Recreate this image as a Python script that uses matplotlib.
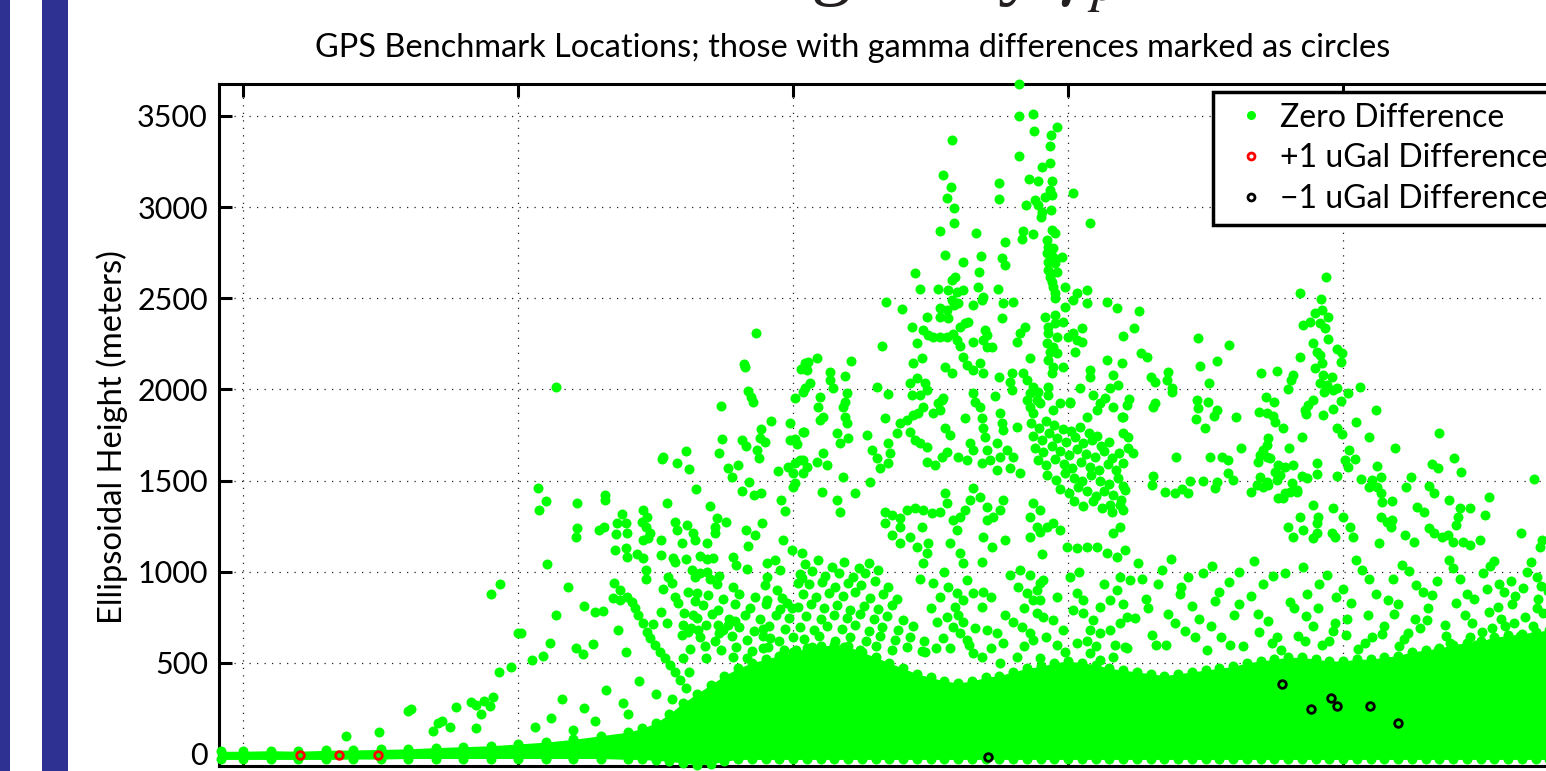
import numpy as np
import matplotlib.pyplot as plt
from matplotlib.patches import Rectangle
from matplotlib.lines import Line2D

plt.rcParams['font.family'] = ['Lato', 'DejaVu Sans']
plt.rcParams['mathtext.fontset'] = 'stix'

# Benchmarks: (latitude in degrees, ellipsoidal height in m)
zero_gulf = [(29.51, 878), (29.67, 933), (30.00, 664), (29.65, 450), (29.87, 477), (29.55, 313),
             (29.38, 291), (29.15, 285), (29.24, 269), (29.49, 263), (29.33, 219), (28.87, 258),
             (28.00, 236), (28.05, 247), (28.45, 126), (28.55, 170), (28.62, 181), (28.76, 148),
             (29.24, 143), (26.87, 99), (27.47, 121), (30.8, 300), (31.2, 250), (31.6, 350),
             (31.9, 280), (32.2, 400), (32.5, 330), (30.6, 200), (31.4, 180), (32.0, 220),
             (32.8, 300), (33.1, 450), (30.3, 150), (31.0, 130)]

zero_south = [(34.33, 2310), (34.11, 2140), (34.13, 2123), (30.69, 2013), (34.18, 1991), (34.24, 1958),
              (34.27, 1931), (33.69, 1909), (35.22, 2145), (35.15, 2112), (35.27, 2150), (35.22, 2008),
              (35.18, 1986), (35.04, 1953), (34.60, 1827), (34.42, 1783), (34.95, 1816), (35.20, 1766),
              (33.71, 1728), (34.07, 1723), (34.15, 1690), (34.40, 1734), (34.49, 1712), (34.35, 1668),
              (34.38, 1624), (34.95, 1723), (35.04, 1728), (35.07, 1701), (33.65, 1651), (32.64, 1629),
              (32.62, 1618), (33.05, 1662), (32.89, 1596), (33.11, 1563), (33.82, 1569), (34.00, 1585),
              (33.89, 1520), (34.20, 1492), (34.07, 1443), (34.29, 1421), (34.42, 1432), (34.73, 1552),
              (34.91, 1574), (35.04, 1596), (35.18, 1613), (35.00, 1542), (35.18, 1542), (35.04, 1487),
              (35.00, 1465), (33.24, 1454), (32.71, 1377), (33.49, 1360), (34.78, 1393), (34.85, 1333),
              (30.36, 1459), (30.51, 1388), (30.38, 1339), (31.07, 1377), (31.58, 1421), (31.58, 1393),
              (31.89, 1317), (31.80, 1267), (31.96, 1267), (31.78, 1207), (31.98, 1212), (32.27, 1339),
              (32.35, 1300), (32.25, 1273), (32.33, 1245), (32.40, 1212), (32.27, 1174), (32.36, 1185),
              (31.47, 1229), (31.56, 1245), (31.07, 1240), (31.05, 1190), (32.60, 1174), (32.85, 1273),
              (32.89, 1229), (33.07, 1256), (33.18, 1212), (33.22, 1174), (32.98, 1158), (33.62, 1295),
              (33.58, 1245), (33.78, 1273), (33.58, 1212), (33.44, 1158), (34.15, 1229), (34.31, 1201),
              (34.44, 1267), (34.18, 1141), (34.82, 1174), (34.98, 1119), (35.16, 1103), (31.76, 1119),
              (31.96, 1130), (31.98, 1081), (32.16, 1097), (32.27, 1075), (32.60, 1092), (32.82, 1075),
              (32.85, 1053), (33.05, 1070), (33.31, 1086), (33.44, 1070), (33.55, 1075), (33.91, 1081),
              (33.96, 1037), (34.16, 1015), (30.53, 1042), (32.33, 1009), (32.33, 960), (32.73, 971),
              (32.80, 938), (32.64, 905), (33.16, 1009), (33.22, 971), (33.31, 993), (33.44, 998),
              (33.49, 960), (33.65, 976), (33.09, 889), (33.25, 883), (33.22, 839), (32.85, 861),
              (32.91, 828), (34.53, 1048), (34.67, 1064), (34.76, 1009), (34.53, 971), (34.49, 927),
              (34.71, 900), (34.53, 845), (34.80, 856), (34.89, 828), (34.98, 801), (35.09, 938),
              (35.16, 966), (31.75, 938), (31.85, 900), (31.98, 861), (32.07, 834), (32.13, 801),
              (32.18, 763), (32.27, 719), (32.35, 669), (32.40, 636), (32.49, 598), (32.58, 560),
              (32.67, 527), (32.76, 488), (32.85, 450), (32.95, 406), (33.05, 362), (31.73, 856),
              (31.85, 845), (30.91, 916), (31.20, 812), (31.40, 779), (31.55, 784), (30.69, 763),
              (32.60, 779), (32.71, 719), (32.45, 713), (33.02, 774), (33.18, 763), (33.00, 708),
              (33.09, 669), (32.98, 653), (33.27, 680), (33.64, 708), (33.82, 708), (33.95, 730),
              (33.65, 664), (34.45, 686), (34.58, 636), (34.45, 582), (31.82, 680), (30.05, 664),
              (30.58, 609), (31.36, 603), (31.05, 582), (31.18, 549), (31.96, 560), (30.45, 538),
              (30.25, 516), (33.00, 527), (33.42, 527), (33.91, 532), (34.16, 527)]

zero_rockies = [(39.11, 3675), (39.11, 3500), (39.36, 3511), (39.38, 3418), (39.80, 3440), (39.69, 3396),
                (39.67, 3335), (37.89, 3368), (39.11, 3281), (39.67, 3242), (39.53, 3220), (37.73, 3176),
                (37.87, 3111), (37.80, 3050), (37.93, 2995), (37.93, 2913), (37.67, 2869), (38.75, 3133),
                (38.75, 3045), (39.29, 3154), (39.45, 3143), (39.71, 3143), (39.67, 3094), (39.71, 3067),
                (39.58, 3056), (39.40, 3039), (39.45, 3012), (39.24, 3012), (39.51, 2946), (39.69, 2984),
                (39.53, 2973), (40.09, 3078), (40.40, 2913), (38.33, 2858), (39.18, 2869), (39.36, 2853),
                (39.16, 2825), (39.71, 2875), (39.76, 2858), (39.62, 2820), (39.64, 2781), (39.73, 2776),
                (39.62, 2748), (39.73, 2727), (39.89, 2727), (39.64, 2699), (39.76, 2694), (39.64, 2655),
                (39.80, 2644), (39.67, 2617), (39.71, 2589), (39.73, 2562), (39.76, 2529), (39.76, 2502),
                (38.85, 2809), (38.80, 2721), (38.85, 2683), (37.76, 2738), (38.42, 2732), (38.09, 2699),
                (38.38, 2644), (37.22, 2639), (37.31, 2551), (37.89, 2600), (37.95, 2617), (37.82, 2546),
                (37.98, 2535), (38.09, 2546), (37.64, 2551), (38.36, 2562), (38.73, 2551), (38.45, 2507),
                (38.44, 2491), (38.27, 2463), (38.82, 2474), (39.00, 2480), (36.69, 2480), (36.98, 2441),
                (37.89, 2491), (37.93, 2463), (38.00, 2474), (37.67, 2447), (37.80, 2436), (39.95, 2562),
                (40.16, 2529), (40.35, 2546), (40.09, 2491), (40.35, 2474), (40.71, 2480), (40.89, 2447),
                (39.95, 2452), (38.80, 2392), (37.44, 2397), (37.67, 2397), (37.82, 2392), (37.16, 2343),
                (37.36, 2326), (37.45, 2299), (37.55, 2288), (37.67, 2288), (37.80, 2288), (37.91, 2304),
                (38.04, 2343), (38.13, 2364), (38.18, 2370), (37.98, 2271), (37.25, 2255), (36.62, 2238),
                (38.04, 2238), (38.27, 2260), (38.49, 2326), (38.53, 2299), (38.45, 2271), (38.53, 2233),
                (38.62, 2233), (39.22, 2343), (39.13, 2310), (39.07, 2260), (39.58, 2397), (39.76, 2408),
                (39.64, 2343), (39.76, 2364), (39.64, 2310), (39.80, 2288), (39.62, 2255), (39.73, 2233),
                (39.67, 2205), (39.80, 2200), (39.64, 2161), (39.73, 2123), (39.71, 2090), (39.91, 2370),
                (40.00, 2288), (40.09, 2310), (40.25, 2337), (40.16, 2271), (40.25, 2260), (40.13, 2205),
                (39.91, 2123), (41.00, 2293), (40.71, 2161), (40.98, 2145), (40.40, 2107), (40.40, 2068),
                (40.82, 2079), (38.09, 2178), (38.16, 2134), (38.40, 2145), (38.45, 2090), (38.27, 2107),
                (37.76, 2123), (37.89, 2090), (37.18, 2145), (37.35, 2172), (39.31, 2172), (38.98, 2090),
                (39.18, 2090), (38.75, 2068), (36.05, 2156), (35.44, 2172), (35.25, 2107), (35.67, 2096),
                (35.67, 2052), (35.73, 2008), (35.95, 2074), (35.31, 2035), (36.53, 2013), (36.73, 1975),
                (37.13, 2035), (37.25, 2063), (37.40, 2035), (37.16, 1969), (37.31, 1969), (37.44, 1997),
                (37.73, 1953), (38.27, 1980), (38.31, 1931), (38.67, 1964), (38.95, 2041), (38.98, 1997),
                (39.25, 2052), (39.36, 2013), (39.45, 1986), (39.31, 1980), (39.44, 1942), (39.25, 1942),
                (39.64, 2013), (39.64, 1969), (40.22, 2008), (40.45, 1969), (40.76, 2008), (40.91, 2024),
                (40.67, 1953), (40.04, 1931), (35.49, 1958), (35.98, 1980), (35.95, 1931)]

zero_plateau = [(35.45, 1904), (35.55, 1849), (35.49, 1832), (35.91, 1904), (35.95, 1849), (35.98, 1816),
                (36.67, 1843), (36.95, 1816), (37.07, 1832), (37.18, 1860), (37.27, 1871), (37.36, 1904),
                (37.55, 1871), (37.67, 1887), (37.71, 1942), (37.64, 1926), (37.76, 1788), (37.85, 1750),
                (38.13, 1843), (38.40, 1904), (38.44, 1843), (38.45, 1788), (38.76, 1871), (38.80, 1816),
                (38.82, 1777), (39.07, 1794), (39.31, 1904), (39.36, 1871), (39.49, 1926), (39.73, 1887),
                (39.85, 1926), (40.04, 1926), (40.35, 1849), (40.53, 1887), (40.58, 1926), (40.82, 1904),
                (40.98, 1849), (35.18, 1766), (35.80, 1761), (35.85, 1706), (36.00, 1734), (36.35, 1750),
                (36.44, 1668), (36.53, 1624), (36.58, 1569), (36.73, 1706), (36.76, 1651), (36.73, 1596),
                (36.89, 1761), (37.13, 1766), (37.22, 1723), (37.31, 1706), (37.44, 1684), (37.44, 1602),
                (37.58, 1585), (37.71, 1629), (37.80, 1657), (38.00, 1629), (38.22, 1706), (38.27, 1668),
                (38.16, 1613), (38.49, 1739), (38.53, 1668), (38.44, 1596), (38.58, 1613), (38.71, 1706),
                (38.76, 1629), (38.71, 1558), (38.89, 1668), (39.00, 1629), (38.95, 1569), (39.13, 1542),
                (35.13, 1613), (35.25, 1574), (35.44, 1602), (35.55, 1651),
                (35.62, 1585), (35.53, 1437), (35.91, 1520), (36.13, 1432), (36.40, 1492), (35.80, 1393),
                (35.85, 1328), (36.67, 1328), (36.80, 1311), (36.95, 1295), (37.07, 1339), (37.22, 1350),
                (37.36, 1339), (37.53, 1322), (37.67, 1328), (37.80, 1377), (37.76, 1432), (36.67, 1267),
                (36.80, 1201), (36.95, 1245), (37.13, 1190), (37.25, 1136), (37.35, 1245), (37.45, 1158),
                (37.44, 1103), (36.95, 1158), (37.36, 1048), (37.91, 1284), (38.04, 1300), (38.13, 1339),
                (38.22, 1393), (37.98, 1229), (37.85, 1158), (38.04, 1103), (38.09, 1048), (38.27, 1459),
                (38.40, 1410), (38.53, 1355), (38.64, 1300), (38.76, 1339), (38.82, 1393), (38.53, 1284),
                (38.45, 1190), (38.62, 1136), (38.85, 1174), (38.44, 1053), (39.36, 1377), (39.49, 1339),
                (39.31, 1300), (39.44, 1245), (39.31, 1190), (39.49, 1218), (39.62, 1245), (39.73, 1267),
                (39.85, 1229), (39.53, 1097), (39.98, 1136), (40.16, 1130), (40.35, 1136), (40.53, 1136),
                (40.71, 1103), (40.89, 1081), (41.04, 1119), (40.82, 1212), (40.95, 1245), (40.76, 1366),
                (41.00, 1339), (41.04, 1448), (37.55, 938), (37.67, 861), (37.82, 916), (37.98, 883),
                (38.09, 845), (37.95, 806), (38.16, 955), (38.27, 883), (38.45, 889), (38.44, 806),
                (37.62, 724), (37.80, 752), (37.91, 697), (38.09, 724), (38.04, 664), (38.16, 625),
                (37.73, 636), (39.09, 916), (39.25, 883), (39.36, 845), (39.44, 900), (39.55, 955),
                (39.13, 1009), (39.31, 982), (39.49, 938), (39.00, 724), (39.16, 697), (39.31, 664),
                (39.36, 625), (39.55, 752), (39.73, 735), (39.91, 680), (38.53, 680), (38.71, 664),
                (38.82, 609), (39.44, 774), (39.49, 845), (40.04, 971), (40.16, 883), (40.27, 845),
                (40.09, 790), (40.27, 774), (40.45, 735), (40.58, 806), (40.76, 845), (40.89, 900),
                (40.95, 971), (40.40, 680), (40.58, 664), (40.76, 680), (40.95, 719), (41.07, 752),
                (40.16, 609), (40.40, 554), (40.58, 516), (40.82, 532), (41.04, 587), (38.27, 554),
                (38.44, 532), (38.76, 499), (39.07, 532), (39.49, 527)]

# the solid knot of benchmarks near 40 N, 1300-1850 m
zero_knot = [(39.32, 1815), (39.47, 1790), (39.60, 1828), (39.74, 1802), (39.90, 1785), (40.06, 1770),
             (40.22, 1792), (40.38, 1760), (40.52, 1745), (39.36, 1745), (39.52, 1722), (39.66, 1760),
             (39.80, 1735), (39.97, 1712), (40.12, 1738), (40.28, 1705), (40.44, 1722), (40.60, 1690),
             (40.75, 1712), (39.40, 1680), (39.55, 1655), (39.70, 1690), (39.86, 1662), (40.02, 1640),
             (40.17, 1675), (40.33, 1648), (40.49, 1630), (40.65, 1660), (40.80, 1625), (40.93, 1650),
             (39.45, 1610), (39.60, 1585), (39.76, 1618), (39.92, 1592), (40.08, 1570), (40.24, 1600),
             (40.40, 1575), (40.56, 1555), (40.72, 1590), (40.88, 1560), (39.62, 1530), (39.78, 1505),
             (39.94, 1540), (40.10, 1515), (40.26, 1495), (40.42, 1528), (40.58, 1500), (40.74, 1480),
             (40.90, 1515), (41.00, 1470), (39.85, 1455), (40.02, 1430), (40.18, 1462), (40.34, 1440),
             (40.50, 1415), (40.66, 1445), (40.82, 1420), (40.97, 1395), (40.10, 1385), (40.28, 1360),
             (40.45, 1388), (40.62, 1350), (40.80, 1330), (40.94, 1365)]

# dense foothill benchmarks, 33-37.5 N, 550-1050 m
zero_foot = [(35.22, 1040), (35.46, 1065), (35.71, 1028), (35.93, 1052), (36.20, 1020), (36.38, 1045),
             (35.12, 985), (35.35, 1002), (35.58, 975), (35.83, 995), (36.08, 968), (36.31, 990),
             (36.55, 1010), (35.28, 930), (35.52, 945), (35.76, 918), (35.99, 940), (36.24, 925),
             (36.49, 950), (36.72, 915), (33.62, 935), (33.90, 915), (35.18, 875), (35.42, 860),
             (35.66, 882), (35.90, 865), (36.13, 888), (36.40, 858), (36.63, 878), (36.88, 850),
             (33.45, 870), (33.72, 852), (34.02, 880), (34.31, 862), (35.08, 805), (35.33, 822),
             (35.57, 798), (35.80, 815), (36.04, 790), (36.29, 812), (36.55, 795), (36.79, 818),
             (33.36, 815), (33.64, 792), (33.95, 820), (34.22, 800), (34.50, 825), (34.76, 795),
             (35.24, 755), (35.50, 738), (35.74, 762), (35.98, 745), (36.22, 768), (36.47, 740),
             (36.71, 758), (37.00, 735), (33.25, 745), (33.53, 768), (33.83, 742), (34.12, 760),
             (34.40, 738), (34.68, 765), (34.93, 748), (35.13, 695), (35.38, 678), (35.62, 702),
             (35.88, 685), (36.13, 705), (36.38, 672), (36.62, 698), (36.90, 680), (37.18, 700),
             (33.15, 690), (33.42, 705), (33.72, 682), (34.01, 698), (34.29, 675), (34.57, 700),
             (34.85, 688), (35.20, 628), (35.47, 645), (35.76, 620), (36.03, 640), (36.32, 618),
             (36.58, 645), (36.86, 625), (37.12, 642), (37.38, 620), (33.30, 640), (33.58, 618),
             (33.88, 645), (34.17, 625), (34.46, 648), (34.74, 622), (35.00, 640), (35.05, 570),
             (35.35, 585), (35.64, 565), (35.93, 588), (36.22, 572), (36.50, 590), (36.80, 568),
             (37.08, 585), (37.35, 565), (37.60, 580), (33.12, 575), (33.40, 590), (33.68, 568),
             (33.97, 585), (34.26, 565), (34.55, 588), (34.83, 570)]

# northern plains, 41-49.5 N, 550-1100 m
zero_plains = [(41.28, 1045), (41.88, 1070), (42.62, 1030), (43.38, 1058), (44.28, 1025), (45.24, 1062),
               (46.08, 1038), (46.92, 1066), (47.68, 1030), (48.42, 1055), (41.12, 955), (41.63, 930),
               (42.18, 968), (42.93, 942), (43.72, 975), (44.57, 935), (45.48, 962), (46.33, 928),
               (47.12, 958), (47.83, 935), (48.52, 970), (41.42, 852), (42.03, 875), (42.68, 840),
               (43.33, 868), (44.04, 835), (44.88, 862), (45.82, 842), (46.62, 872), (47.38, 848),
               (48.12, 868), (48.81, 838), (41.22, 748), (41.81, 770), (42.38, 738), (43.02, 762),
               (43.63, 732), (44.32, 758), (45.08, 742), (45.92, 768), (46.52, 735), (47.22, 760),
               (47.88, 742), (48.63, 772), (41.52, 652), (42.12, 672), (42.78, 640), (43.48, 668),
               (44.18, 645), (44.82, 675), (45.52, 640), (46.18, 662), (46.88, 648), (47.52, 670),
               (48.22, 645), (48.92, 668), (41.08, 582), (41.78, 598), (42.52, 572), (43.18, 590),
               (43.88, 568), (44.62, 596), (45.28, 575), (46.02, 592), (46.72, 570), (47.42, 595),
               (48.02, 578), (48.72, 600), (47.62, 905), (47.92, 888), (48.28, 912), (48.72, 895),
               (49.12, 918), (47.82, 805), (48.08, 822), (48.52, 798), (48.88, 815), (49.28, 800),
               (44.70, 980), (45.00, 905), (45.35, 1010), (45.60, 880), (45.90, 960), (46.20, 1005),
               (46.45, 890), (46.70, 950), (47.00, 1020), (47.25, 880), (47.55, 990), (47.75, 1060),
               (48.05, 950), (48.35, 1000), (48.60, 920), (48.95, 985), (49.20, 1050), (44.55, 800),
               (44.85, 720), (45.15, 830), (45.45, 760), (45.75, 700), (46.00, 820), (46.30, 740),
               (46.55, 800), (46.85, 705), (47.05, 830), (47.35, 720), (47.65, 780), (47.95, 700),
               (48.30, 750), (48.55, 850), (48.80, 720), (49.10, 760), (49.35, 860), (44.75, 620),
               (45.05, 650), (45.40, 610), (45.70, 660), (46.10, 630), (46.40, 690), (46.95, 610),
               (47.30, 640), (47.70, 690), (48.10, 720), (48.45, 700), (49.00, 640), (49.30, 700),
               (41.35, 960), (41.70, 1010), (42.05, 915), (42.45, 990), (42.75, 890), (43.10, 1000),
               (43.55, 930), (43.95, 990), (44.35, 880), (41.45, 800), (41.95, 720), (42.25, 810),
               (42.60, 700), (43.10, 820), (43.45, 770), (43.80, 640), (44.10, 800), (44.45, 700),
               (41.60, 600), (42.30, 640), (42.95, 600), (43.70, 610), (44.30, 620)]

# scattered central benchmarks, 37-41 N, 550-1000 m
zero_central = [(37.30, 960), (37.50, 800), (37.75, 1000), (38.00, 760), (38.30, 690), (38.60, 860),
                (38.85, 760), (38.95, 980), (39.20, 800), (39.60, 640), (39.80, 860), (39.95, 560),
                (40.20, 1000), (40.35, 620), (40.65, 930), (40.85, 600), (41.00, 820), (37.40, 560),
                (37.85, 580), (38.20, 600), (38.60, 580), (39.20, 590), (39.80, 600), (40.50, 590)]

zero_north = [(44.69, 2617), (44.22, 2529), (44.60, 2496), (44.49, 2419), (44.62, 2436), (44.73, 2397),
              (44.40, 2370), (44.58, 2364), (44.67, 2337), (44.27, 2353), (44.73, 2277), (44.45, 2255),
              (44.53, 2205), (44.58, 2189), (44.62, 2145), (44.49, 2118), (44.89, 2222), (44.98, 2200),
              (44.96, 2150), (44.22, 2178), (44.64, 2079), (44.80, 2068), (44.58, 2035), (44.71, 2024),
              (44.65, 1986), (44.82, 1997), (44.89, 2008), (45.09, 1980), (45.31, 2013), (44.96, 1937),
              (44.82, 1893), (44.64, 1860), (44.45, 1942), (44.36, 1915), (44.31, 1887), (44.33, 1865),
              (44.09, 2079), (44.05, 2052), (44.00, 2002), (43.80, 2101), (43.51, 2090), (43.60, 1958),
              (43.75, 1931), (43.47, 1876), (43.62, 1871), (43.73, 1854), (43.76, 1821), (43.91, 1788),
              (44.25, 1739), (44.89, 1788), (44.98, 1755), (45.24, 1821), (45.60, 1887), (45.47, 1739),
              (46.75, 1761), (45.95, 1679), (45.11, 1668), (45.04, 1613), (45.22, 1618), (45.09, 1574),
              (45.62, 1580), (45.33, 1509), (45.53, 1503), (45.69, 1520), (45.47, 1465), (45.62, 1465),
              (45.69, 1432), (46.24, 1520), (46.15, 1465), (46.62, 1591), (46.73, 1569), (47.02, 1624),
              (47.15, 1547), (46.56, 1470), (46.65, 1432), (47.65, 1410), (48.47, 1509), (46.93, 1393),
              (44.53, 1596), (44.53, 1536), (44.89, 1525), (44.25, 1525), (44.35, 1514), (44.02, 1679),
              (43.64, 1734), (43.62, 1695), (43.55, 1668), (43.49, 1640), (43.45, 1602), (43.62, 1629),
              (43.67, 1624), (43.82, 1585), (43.95, 1574), (44.09, 1585), (43.76, 1547), (43.85, 1531),
              (43.80, 1503), (43.62, 1492), (43.49, 1520), (43.44, 1476), (43.55, 1465), (43.64, 1476),
              (44.07, 1487), (44.16, 1437), (43.95, 1432), (43.91, 1404), (43.33, 1437), (43.15, 1679),
              (43.05, 1849), (42.49, 1788), (42.33, 1838), (42.35, 1942), (42.36, 1898), (42.55, 1931),
              (42.71, 1887), (42.65, 1854), (42.56, 2035), (42.40, 2129), (42.71, 2156), (42.36, 2282),
              (42.93, 2244), (41.82, 2096), (41.80, 2052), (41.89, 2008), (41.89, 1986), (41.51, 2068),
              (41.58, 2041), (41.58, 1926), (41.55, 1904), (41.96, 1629), (42.58, 1629), (42.80, 1629),
              (42.91, 1613), (42.91, 1542), (43.00, 1503), (42.71, 1492), (42.67, 1459), (42.45, 1498),
              (42.22, 1498), (41.55, 1525), (41.53, 1476), (41.76, 1437), (41.95, 1432), (42.07, 1454),
              (42.18, 1432), (41.29, 2430), (41.20, 2337), (41.33, 2200), (41.44, 2178), (41.11, 1948),
              (41.07, 1915), (41.00, 1849), (41.00, 1761), (41.09, 1739), (41.09, 1679), (41.18, 1651),
              (41.00, 1596), (45.89, 1388), (45.71, 1382), (45.69, 1300), (45.80, 1273), (45.89, 1284),
              (45.87, 1245), (46.35, 1355), (46.47, 1328), (47.13, 1350), (47.31, 1350), (47.09, 1300),
              (47.05, 1256), (47.58, 1311), (48.24, 1212), (48.62, 1174), (48.58, 1136), (46.13, 1201),
              (46.29, 1163), (46.56, 1240), (46.65, 1212), (46.80, 1190), (46.91, 1201), (47.00, 1163),
              (47.18, 1163), (47.31, 1147), (47.49, 1174), (45.65, 1158), (45.13, 1245), (45.18, 1190),
              (45.00, 1300), (44.82, 1350), (44.45, 1366), (44.55, 1300), (44.53, 1267), (44.53, 1212),
              (44.45, 1185), (44.27, 1229), (44.22, 1300), (44.00, 1245), (44.09, 1190), (44.80, 1212),
              (44.85, 1190), (43.82, 1404), (44.04, 1437), (44.16, 1448)]

# benchmarks with a gamma difference
plus_one_lat = [26.04, 26.75, 27.45]
plus_one_h = [-5, -5, -5]
minus_one_lat = [43.89, 44.42, 44.78, 44.89, 45.49, 46.00, 38.55]
minus_one_h = [384, 247, 307, 263, 263, 170, -16]

# outline of the solid low-elevation band
band_lat = [24.6, 25.0, 25.5, 26.0, 26.5, 27.0, 27.5, 28.0, 28.5, 29.0, 29.5, 30.0, 30.5, 31.0, 31.5,
            32.0, 32.25, 32.5, 32.75, 33.0, 33.25, 33.5, 33.75, 34.0, 34.25, 34.5, 34.75, 35.0, 35.25,
            35.5, 35.75, 36.0, 36.25, 36.5, 36.75, 37.0, 37.25, 37.5, 37.75, 38.0, 38.25, 38.5, 38.75,
            39.0, 39.25, 39.5, 39.75, 40.0, 40.25, 40.5, 40.75, 41.0, 41.25, 41.5, 41.75, 42.0, 42.25,
            42.5, 42.75, 43.0, 43.25, 43.5, 43.75, 44.0, 44.25, 44.5, 44.75, 45.0, 45.25, 45.5, 45.75,
            46.0, 46.25, 46.5, 46.75, 47.0, 47.25, 47.5, 47.75, 48.0, 48.25, 48.5, 48.75, 49.0, 49.5]
band_top = [15, 15, 18, 15, 20, 22, 25, 28, 35, 40, 45, 55, 65, 80, 100,
            120, 140, 170, 220, 280, 330, 380, 430, 470, 500, 520, 540, 560, 580,
            590, 600, 590, 560, 530, 500, 470, 440, 420, 400, 390, 400, 420, 430,
            450, 470, 480, 500, 510, 500, 490, 470, 460, 450, 440, 430, 440, 450,
            460, 470, 480, 500, 510, 520, 530, 530, 520, 510, 510, 520, 520, 530,
            540, 560, 570, 580, 600, 610, 620, 640, 650, 660, 670, 680, 690, 700]
band_bot = [-30, -30, -30, -30, -30, -28, -28, -25, -25, -25, -25, -25, -25, -25, -25,
            -30, -30, -35, -40, -50, -60, -55, -40, -30, -30, -30, -30, -30, -30,
            -30, -30, -30, -30, -30, -30, -30, -30, -30, -30, -30, -30, -30, -30,
            -30, -30, -30, -30, -30, -30, -30, -30, -30, -30, -30, -30, -30, -30,
            -30, -30, -30, -30, -30, -30, -30, -30, -30, -30, -30, -30, -30, -30,
            -30, -30, -30, -30, -30, -30, -30, -30, -30, -30, -30, -30, -30, -30]

W, H = 1546, 771
green = '#00ff00'
dot = dict(ls='none', marker='o', color=green, mec='none', ms=7.2, zorder=3, clip_on=False)

fig = plt.figure(figsize=(W / 100, H / 100), dpi=100)

# slide decoration on the left
for x0, w in [(0, 10), (42, 26)]:
    fig.patches.append(Rectangle((x0 / W, 0), w / W, 1, transform=fig.transFigure,
                                 facecolor='#2e3192', edgecolor='none'))

# slide heading, only its lower part shows
fig.text(810 / W, 1 + 10 / H, r'gravity $\gamma_p$', family='Liberation Serif', fontsize=58,
         ha='left', va='baseline', color='#231f20')

ax = fig.add_axes([219 / W, 5 / H, 1371.5 / W, 682 / H])

ax.fill_between(band_lat, band_bot, band_top, color=green, lw=0, zorder=3)
ax.plot(band_lat, band_top, **dot)
ax.plot(band_lat, band_bot, **dot)

for group in [zero_gulf, zero_south, zero_rockies, zero_plateau, zero_knot, zero_foot,
              zero_plains, zero_central, zero_north]:
    lat, h = np.array(group).T
    ax.plot(lat, h, **dot)

ax.plot(plus_one_lat, plus_one_h, 'o', mfc='none', mec='red', mew=2, ms=5.5, zorder=4, clip_on=False)
ax.plot(minus_one_lat, minus_one_h, 'o', mfc='none', mec='black', mew=2, ms=5.5, zorder=4, clip_on=False)

ax.set_xlim(24.56, 49.5)
ax.set_ylim(-66, 3675)
ax.set_xticks([25, 30, 35, 40, 45])
ax.set_yticks(np.arange(0, 3501, 500))
ax.grid(True, color='#222222', ls=(0, (1, 5)), lw=0.9)
ax.set_axisbelow(True)
ax.tick_params(direction='in', length=9, width=2.2, top=True, right=True,
               labelbottom=False, labelsize=22, pad=8)
for s in ax.spines.values():
    s.set_linewidth(2.2)

fig.text(853 / W, 1 - 57 / H,
         'GPS Benchmark Locations; those with gamma differences marked as circles',
         ha='center', va='baseline', fontsize=23.4)
fig.text(112 / W, 1 - 437 / H, 'Ellipsoidal Height (meters)', rotation=90,
         ha='center', va='center', fontsize=23.6)

handles = [Line2D([], [], ls='none', marker='o', color=green, mec='none', ms=6.5),
           Line2D([], [], ls='none', marker='o', mfc='none', mec='red', mew=2, ms=5),
           Line2D([], [], ls='none', marker='o', mfc='none', mec='black', mew=2, ms=5)]
leg = ax.legend(handles, ['Zero Difference', '+1 uGal Difference', '\u22121 uGal Difference'],
                loc='upper left', bbox_to_anchor=(1213 / W, 1 - 92 / H), bbox_transform=fig.transFigure,
                borderaxespad=0, fancybox=False, framealpha=1, edgecolor='black', fontsize=23,
                handlelength=1.7, handletextpad=0.08, borderpad=0.33, labelspacing=0.34)
leg.get_frame().set_linewidth(2.5)
leg.set_zorder(10)

fig.savefig('out.png', dpi=100)
